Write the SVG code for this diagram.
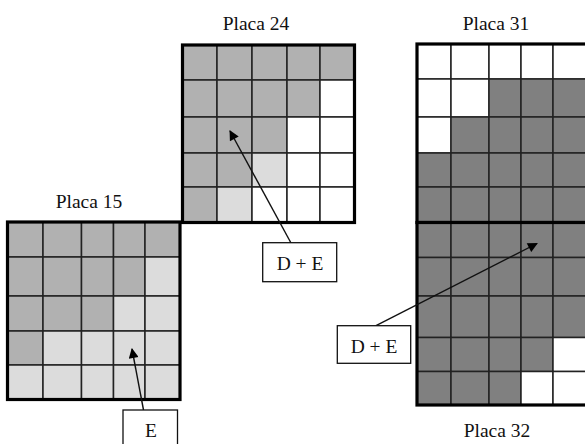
<svg xmlns="http://www.w3.org/2000/svg" width="585" height="444" viewBox="0 0 585 444">
<style>
.g{fill:#b1b1b1}.l{fill:#dcdcdc}.d{fill:#808080}.w{fill:#ffffff}
rect.c{stroke:#222;stroke-width:1.5}
.frame{fill:none;stroke:#000;stroke-width:3.2}
.t{font-family:"Liberation Serif","Times New Roman",serif;font-size:19.5px;fill:#111;text-anchor:middle}
.box{fill:#fff;stroke:#111;stroke-width:1.3}
.conn{stroke:#111;stroke-width:1.4;fill:none}
</style>
<defs>
<marker id="ah" viewBox="0 0 10 10" refX="9" refY="5" markerWidth="12" markerHeight="10" markerUnits="userSpaceOnUse" orient="auto">
<path d="M0,0 L10,5 L0,10 z" fill="#000"/>
</marker>
</defs>
<g id="placa24">
<text class="t" x="256" y="30">Placa 24</text>
<rect class="c g" x="182" y="45" width="35" height="35"/><rect class="c g" x="217" y="45" width="35" height="35"/><rect class="c g" x="252" y="45" width="35" height="35"/><rect class="c g" x="287" y="45" width="33" height="35"/><rect class="c g" x="320" y="45" width="34" height="35"/>
<rect class="c g" x="182" y="80" width="35" height="37"/><rect class="c g" x="217" y="80" width="35" height="37"/><rect class="c g" x="252" y="80" width="35" height="37"/><rect class="c g" x="287" y="80" width="33" height="37"/><rect class="c w" x="320" y="80" width="34" height="37"/>
<rect class="c g" x="182" y="117" width="35" height="36"/><rect class="c g" x="217" y="117" width="35" height="36"/><rect class="c g" x="252" y="117" width="35" height="36"/><rect class="c w" x="287" y="117" width="33" height="36"/><rect class="c w" x="320" y="117" width="34" height="36"/>
<rect class="c g" x="182" y="153" width="35" height="34"/><rect class="c g" x="217" y="153" width="35" height="34"/><rect class="c l" x="252" y="153" width="35" height="34"/><rect class="c w" x="287" y="153" width="33" height="34"/><rect class="c w" x="320" y="153" width="34" height="34"/>
<rect class="c g" x="182" y="187" width="35" height="35"/><rect class="c l" x="217" y="187" width="35" height="35"/><rect class="c w" x="252" y="187" width="35" height="35"/><rect class="c w" x="287" y="187" width="33" height="35"/><rect class="c w" x="320" y="187" width="34" height="35"/>
<rect class="frame" x="182.5" y="45" width="172" height="177.5"/>
</g>
<g id="placa15">
<text class="t" x="89" y="208">Placa 15</text>
<rect class="c g" x="7.5" y="222" width="35.5" height="35"/><rect class="c g" x="43" y="222" width="38.5" height="35"/><rect class="c g" x="81.5" y="222" width="32" height="35"/><rect class="c g" x="113.5" y="222" width="31.5" height="35"/><rect class="c g" x="145" y="222" width="35" height="35"/>
<rect class="c g" x="7.5" y="257" width="35.5" height="39"/><rect class="c g" x="43" y="257" width="38.5" height="39"/><rect class="c g" x="81.5" y="257" width="32" height="39"/><rect class="c g" x="113.5" y="257" width="31.5" height="39"/><rect class="c l" x="145" y="257" width="35" height="39"/>
<rect class="c g" x="7.5" y="296" width="35.5" height="35"/><rect class="c g" x="43" y="296" width="38.5" height="35"/><rect class="c g" x="81.5" y="296" width="32" height="35"/><rect class="c l" x="113.5" y="296" width="31.5" height="35"/><rect class="c l" x="145" y="296" width="35" height="35"/>
<rect class="c g" x="7.5" y="331" width="35.5" height="34"/><rect class="c l" x="43" y="331" width="38.5" height="34"/><rect class="c l" x="81.5" y="331" width="32" height="34"/><rect class="c l" x="113.5" y="331" width="31.5" height="34"/><rect class="c l" x="145" y="331" width="35" height="34"/>
<rect class="c l" x="7.5" y="365" width="35.5" height="34"/><rect class="c l" x="43" y="365" width="38.5" height="34"/><rect class="c l" x="81.5" y="365" width="32" height="34"/><rect class="c l" x="113.5" y="365" width="31.5" height="34"/><rect class="c l" x="145" y="365" width="35" height="34"/>
<rect class="frame" x="7.5" y="222" width="172.5" height="177.5"/>
</g>
<g id="placa31">
<text class="t" x="496" y="30">Placa 31</text>
<rect class="c w" x="417" y="44" width="34" height="35"/><rect class="c w" x="451" y="44" width="38" height="35"/><rect class="c w" x="489" y="44" width="32" height="35"/><rect class="c w" x="521" y="44" width="32" height="35"/><rect class="c w" x="553" y="44" width="34" height="35"/>
<rect class="c w" x="417" y="79" width="34" height="38"/><rect class="c w" x="451" y="79" width="38" height="38"/><rect class="c d" x="489" y="79" width="32" height="38"/><rect class="c d" x="521" y="79" width="32" height="38"/><rect class="c d" x="553" y="79" width="34" height="38"/>
<rect class="c w" x="417" y="117" width="34" height="36"/><rect class="c d" x="451" y="117" width="38" height="36"/><rect class="c d" x="489" y="117" width="32" height="36"/><rect class="c d" x="521" y="117" width="32" height="36"/><rect class="c d" x="553" y="117" width="34" height="36"/>
<rect class="c d" x="417" y="153" width="34" height="34"/><rect class="c d" x="451" y="153" width="38" height="34"/><rect class="c d" x="489" y="153" width="32" height="34"/><rect class="c d" x="521" y="153" width="32" height="34"/><rect class="c d" x="553" y="153" width="34" height="34"/>
<rect class="c d" x="417" y="187" width="34" height="35.5"/><rect class="c d" x="451" y="187" width="38" height="35.5"/><rect class="c d" x="489" y="187" width="32" height="35.5"/><rect class="c d" x="521" y="187" width="32" height="35.5"/><rect class="c d" x="553" y="187" width="34" height="35.5"/>
<rect class="frame" x="417" y="44" width="172" height="178.5"/>
</g>
<g id="placa32">
<text class="t" x="497" y="437">Placa 32</text>
<rect class="c d" x="417" y="222.5" width="34" height="35"/><rect class="c d" x="451" y="222.5" width="38" height="35"/><rect class="c d" x="489" y="222.5" width="32" height="35"/><rect class="c d" x="521" y="222.5" width="32" height="35"/><rect class="c d" x="553" y="222.5" width="34" height="35"/>
<rect class="c d" x="417" y="257.5" width="34" height="38.5"/><rect class="c d" x="451" y="257.5" width="38" height="38.5"/><rect class="c d" x="489" y="257.5" width="32" height="38.5"/><rect class="c d" x="521" y="257.5" width="32" height="38.5"/><rect class="c d" x="553" y="257.5" width="34" height="38.5"/>
<rect class="c d" x="417" y="296" width="34" height="41.5"/><rect class="c d" x="451" y="296" width="38" height="41.5"/><rect class="c d" x="489" y="296" width="32" height="41.5"/><rect class="c d" x="521" y="296" width="32" height="41.5"/><rect class="c d" x="553" y="296" width="34" height="41.5"/>
<rect class="c d" x="417" y="337.5" width="34" height="34"/><rect class="c d" x="451" y="337.5" width="38" height="34"/><rect class="c d" x="489" y="337.5" width="32" height="34"/><rect class="c d" x="521" y="337.5" width="32" height="34"/><rect class="c w" x="553" y="337.5" width="34" height="34"/>
<rect class="c d" x="417" y="371.5" width="34" height="33.5"/><rect class="c d" x="451" y="371.5" width="38" height="33.5"/><rect class="c d" x="489" y="371.5" width="32" height="33.5"/><rect class="c w" x="521" y="371.5" width="32" height="33.5"/><rect class="c w" x="553" y="371.5" width="34" height="33.5"/>
<rect class="frame" x="417" y="222.5" width="172" height="182.5"/>
</g>
<g id="connectors">
<line class="conn" x1="291" y1="243" x2="230" y2="131" marker-end="url(#ah)"/>
<line class="conn" x1="143.5" y1="410" x2="132" y2="349" marker-end="url(#ah)"/>
<line class="conn" x1="376" y1="325.7" x2="537" y2="243.5" marker-end="url(#ah)"/>
</g>
<g id="labelE">
<rect class="box" x="123" y="410" width="54.5" height="40"/>
<text class="t" x="151" y="437">E</text>
</g>
<g id="labelDE1">
<rect class="box" x="262.7" y="242.7" width="74" height="39"/>
<text class="t" x="300" y="269.5">D + E</text>
</g>
<g id="labelDE2">
<rect class="box" x="337.3" y="325.7" width="73.4" height="37.6"/>
<text class="t" x="374" y="352.7">D + E</text>
</g>
</svg>
